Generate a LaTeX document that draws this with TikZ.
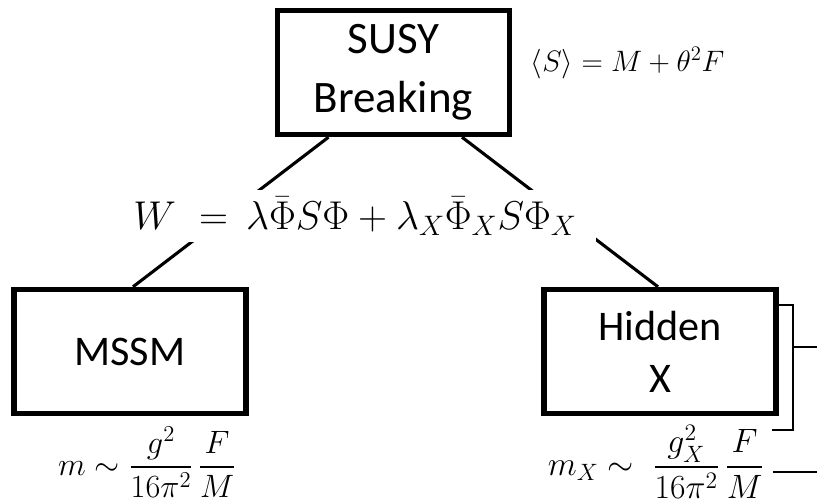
\RequirePackage{fix-cm}
\documentclass[tikz,border=0pt]{standalone}
\usepackage{amsmath}
\usepackage{fontspec}
\setsansfont{Carlito}
\usetikzlibrary{calc}

\begin{document}
\begin{tikzpicture}[x=0.025cm,y=-0.025cm,
  block/.style={draw,line width=3.8pt,minimum width=5.8cm,minimum height=3.1cm,
    align=center,font=\sffamily\fontsize{30}{37}\selectfont},
  link/.style={line width=2.2pt},
  tie/.style={line width=1.4pt}]
\useasboundingbox (0,0) rectangle (817,501);
\node[block,font=\sffamily\fontsize{32}{42}\selectfont] (susy) at (393.5,72.5) {SUSY\\Breaking};
\node[block] (mssm) at (130,351.5) {MSSM};
\node[block] (hidden) at (660,351.5) {Hidden\\X};
\node[anchor=west,font=\fontsize{21}{25}\selectfont] (vev) at (526,63) {$\langle S\rangle = M + \theta^2 F$};
\draw[link] ($(susy.south)+(-65,0)$) -- ($(mssm.north)+(3,0)$);
\draw[link] ($(susy.south)+(68.5,0)$) -- ($(hidden.north)+(-2,0)$);
\node[fill=white,inner xsep=14pt,inner ysep=5pt,font=\fontsize{28.6}{33}\selectfont] (wsup) at (355,216)
  {$W\ =\,\lambda\bar\Phi S\Phi + \lambda_X\bar\Phi_X S\Phi_X$};
\node[font=\fontsize{23}{28}\selectfont] (mlight) at (147,462) {$m \sim \dfrac{g^2}{16\pi^2}\,\dfrac{F}{M}$};
\node[font=\fontsize{24}{29}\selectfont] (mheavy) at (656,462) {$m_X \sim\; \dfrac{g_X^2}{16\pi^2}\,\dfrac{F}{M}$};
\coordinate (tiein) at (hidden.east |- 0,305);
\coordinate (tieout) at (772,430);
\coordinate (tiemid) at (793,347);
\coordinate (tieend) at (817,347);
\coordinate (massin) at (773,472);
\coordinate (massend) at (817,472);
\draw[tie] (tiein) -- (tiein -| tiemid) -- (tieout -| tiemid) -- (tieout);
\draw[tie] (tiemid) -- (tieend);
\draw[tie] (massin) -- (massend);
\end{tikzpicture}
\end{document}
